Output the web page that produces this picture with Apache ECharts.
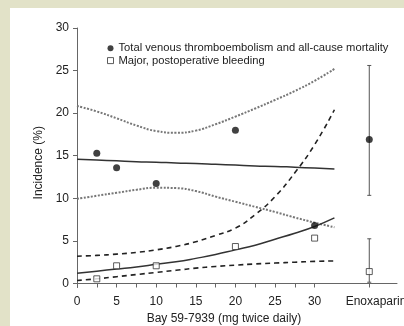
<!DOCTYPE html>
<html>
<head>
<meta charset="utf-8">
<script src="https://cdn.jsdelivr.net/npm/echarts@6/dist/echarts.min.js"></script>
<style>
html, body { margin: 0; padding: 0; background: #e2e2c8; }
#main { width: 404px; height: 326px; }
</style>
</head>
<body>
<div id="main"></div>
<script>
// tick / label positions
var doseTicks = [0, 2.5, 5, 7.5, 10, 12.5, 15, 17.5, 20, 22.5, 25, 27.5, 30];
var doseLabels = [0, 5, 10, 15, 20, 25, 30];
var yTicks = [0, 5, 10, 15, 20, 25, 30];
var enoxName = 'Enoxaparin';
var enoxX = 36.9;
var enoxLabelX = 37.75;

// observed points
var vteDose = [2.5, 5, 10, 20, 30];
var vteValues = [15.3, 13.6, 11.75, 18.0, 6.8];
var bleedDose = [2.5, 5, 10, 20, 30];
var bleedValues = [0.55, 2.08, 2.08, 4.34, 5.33];

// enoxaparin: value, low, high
var vteEnox = [16.9, 10.35, 25.6];
var bleedEnox = [1.4, 0.15, 5.25];

// fitted curves
var fitDose = [0, 2.5, 5, 7.5, 10, 12.5, 15, 17.5, 20, 22.5, 25, 27.5, 30, 32.5];
var vteFit = [14.6, 14.5, 14.4, 14.3, 14.25, 14.15, 14.1, 14.0, 13.9, 13.8, 13.75, 13.65, 13.55, 13.45];
var vteUpper = [20.85, 20.2, 19.4, 18.55, 17.9, 17.7, 17.95, 18.7, 19.6, 20.55, 21.55, 22.6, 23.8, 25.2];
var vteLower = [9.95, 10.3, 10.65, 11.0, 11.25, 11.2, 10.85, 10.2, 9.6, 9.0, 8.4, 7.75, 7.15, 6.6];
var bleedFit = [1.2, 1.45, 1.7, 1.95, 2.25, 2.55, 2.95, 3.4, 3.95, 4.5, 5.2, 5.9, 6.7, 7.7];
var bleedUpper = [3.2, 3.3, 3.45, 3.65, 3.95, 4.35, 4.9, 5.65, 6.5, 8.1, 10.2, 13.0, 16.3, 20.4];
var bleedLower = [0.35, 0.55, 0.8, 1.05, 1.3, 1.55, 1.8, 2.0, 2.15, 2.3, 2.4, 2.5, 2.6, 2.65];

var legendNames = ['Total venous thromboembolism and all-cause mortality', 'Major, postoperative bleeding'];

function pairs(xs, ys) {
    var out = [];
    for (var i = 0; i < xs.length; i++) out.push([xs[i], ys[i]]);
    return out;
}

function curve(values, type, color, width) {
    return {
        type: 'line',
        data: pairs(fitDose, values),
        smooth: true,
        symbol: 'none',
        silent: true,
        lineStyle: { color: color, width: width, type: type },
        z: 2
    };
}

var dom = document.getElementById('main');
var myChart = echarts.init(dom, null, { renderer: 'canvas' });

var axisColor = '#666';
var font = 'Liberation Sans, Arial, sans-serif';

var option = {
    backgroundColor: '#e2e2c8',
    animation: false,
    graphic: [{
        type: 'rect',
        shape: { x: 10, y: 8, width: 400, height: 330 },
        style: { fill: '#ffffff' },
        z: -10
    }],
    grid: { left: 77, top: 28, right: 7, bottom: 38.5, outerBoundsMode: 'none', containLabel: false },
    legend: {
        orient: 'vertical',
        left: 107,
        top: 42,
        padding: 0,
        itemWidth: 6,
        itemHeight: 6,
        itemGap: 0,
        selectedMode: false,
        textStyle: { fontFamily: font, fontSize: 11.2, color: '#222', lineHeight: 12.4 },
        data: [
            { name: legendNames[0], icon: 'circle', itemStyle: { color: '#111', borderWidth: 0 } },
            { name: legendNames[1], icon: 'rect', itemStyle: { color: '#fff', borderColor: '#333', borderWidth: 1 } }
        ]
    },
    xAxis: {
        type: 'value',
        min: 0,
        max: 40.4,
        name: 'Bay 59-7939 (mg twice daily)',
        nameLocation: 'middle',
        nameGap: 22,
        nameTextStyle: { fontFamily: font, fontSize: 12, color: '#222', padding: [0, 26, 0, 0] },
        axisLine: { lineStyle: { color: axisColor, width: 1 } },
        axisTick: { customValues: doseTicks.concat([enoxX]), length: 4, lineStyle: { color: axisColor } },
        axisLabel: {
            customValues: doseLabels.concat([enoxLabelX]),
            margin: 8,
            fontFamily: font,
            fontSize: 12,
            color: '#222',
            formatter: function (v) { return v === enoxLabelX ? enoxName : String(v); }
        },
        splitLine: { show: false }
    },
    yAxis: {
        type: 'value',
        min: -0.47,
        max: 30,
        name: 'Incidence (%)',
        nameLocation: 'middle',
        nameGap: 24,
        nameTextStyle: { fontFamily: font, fontSize: 12, color: '#222', padding: [0, 10, 0, 0] },
        axisLine: { show: true, lineStyle: { color: axisColor, width: 1 } },
        axisTick: { show: true, customValues: yTicks, length: 4, lineStyle: { color: axisColor } },
        axisLabel: { customValues: yTicks, margin: 8, fontFamily: font, fontSize: 12, color: '#222' },
        splitLine: { show: false }
    },
    series: [
        curve(vteUpper, [2, 1.5], '#777', 2),
        curve(vteLower, [2, 1.5], '#777', 2),
        curve(vteFit, 'solid', '#333', 1.5),
        curve(bleedUpper, [5, 4], '#222', 1.6),
        curve(bleedLower, [5, 4], '#222', 1.6),
        curve(bleedFit, 'solid', '#333', 1.5),
        {
            // enoxaparin error bars
            type: 'custom',
            silent: true,
            data: [[enoxX, vteEnox[1], vteEnox[2]], [enoxX, bleedEnox[1], bleedEnox[2]]],
            renderItem: function (params, api) {
                var lo = api.coord([api.value(0), api.value(1)]);
                var hi = api.coord([api.value(0), api.value(2)]);
                var cap = 2;
                var st = { stroke: '#555', lineWidth: 1 };
                return {
                    type: 'group',
                    children: [
                        { type: 'line', shape: { x1: lo[0], y1: lo[1], x2: hi[0], y2: hi[1] }, style: st },
                        { type: 'line', shape: { x1: lo[0] - cap, y1: lo[1], x2: lo[0] + cap, y2: lo[1] }, style: st },
                        { type: 'line', shape: { x1: hi[0] - cap, y1: hi[1], x2: hi[0] + cap, y2: hi[1] }, style: st }
                    ]
                };
            },
            z: 3
        },
        {
            name: legendNames[0],
            type: 'scatter',
            symbol: 'circle',
            symbolSize: 7,
            itemStyle: { color: '#111' },
            data: pairs(vteDose, vteValues).concat([[enoxX, vteEnox[0]]]),
            z: 5
        },
        {
            name: legendNames[1],
            type: 'scatter',
            symbol: 'rect',
            symbolSize: 6,
            itemStyle: { color: '#fff', borderColor: '#333', borderWidth: 1 },
            data: pairs(bleedDose, bleedValues).concat([[enoxX, bleedEnox[0]]]),
            z: 5
        }
    ]
};

option && myChart.setOption(option);
window.addEventListener('resize', myChart.resize);
</script>
</body>
</html>
